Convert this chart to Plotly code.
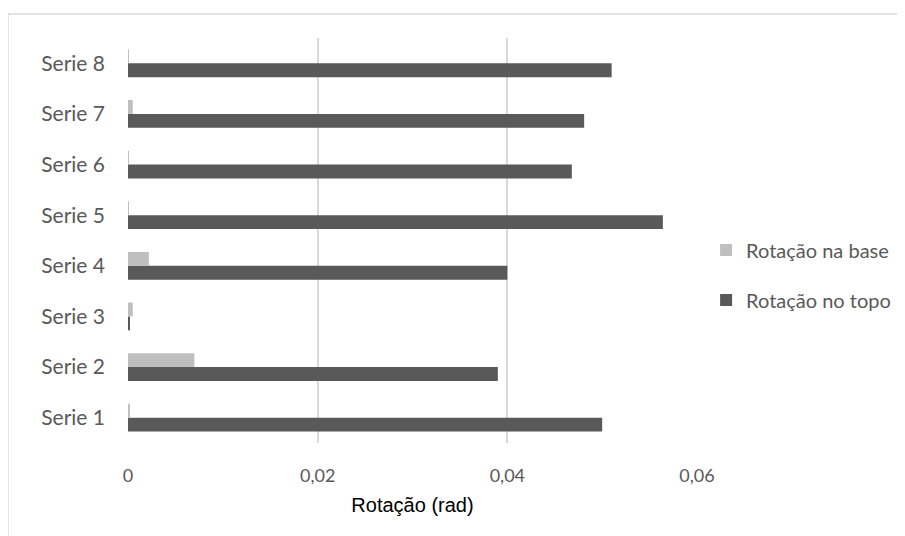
import plotly.graph_objects as go

categories = ["Serie 1", "Serie 2", "Serie 3", "Serie 4", "Serie 5", "Serie 6", "Serie 7", "Serie 8"]
rot_base = [0.00015, 0.0070, 0.0005, 0.0022, 0.0001, 0.0001, 0.0005, 0.0001]
rot_topo = [0.0500, 0.0390, 0.00015, 0.0400, 0.0564, 0.0468, 0.0481, 0.0510]
x_ticks = [0, 0.02, 0.04, 0.06]
x_ticktext = ["0", "0,02", "0,04", "0,06"]

FONT = "Lato"
fig = go.Figure()
fig.add_trace(go.Bar(y=categories, x=rot_topo, orientation="h", name="Rotação no topo",
                     marker=dict(color="#595959", line=dict(width=0)),
                     legendrank=2, legendgroup="b"))
fig.add_trace(go.Bar(y=categories, x=rot_base, orientation="h", name="Rotação na base",
                     marker=dict(color="#bfbfbf", line=dict(width=0)),
                     legendrank=1, legendgroup="a"))

fig.update_layout(
    width=897, height=528,
    margin=dict(l=120, r=208, t=30, b=93, autoexpand=False),
    paper_bgcolor="white", plot_bgcolor="white",
    barmode="group", bargap=0.45, bargroupgap=0,
    separators=",.",
    font=dict(family=FONT, size=16, color="#595959"),
    showlegend=True,
    legend=dict(x=1.016, xanchor="left", y=0.415, yanchor="middle",
                traceorder="grouped", tracegroupgap=21,
                font=dict(family=FONT, size=20, color="#595959"),
                itemwidth=30, bgcolor="rgba(0,0,0,0)"),
    xaxis=dict(range=[0, 0.06], tickvals=x_ticks, ticktext=x_ticktext,
               showgrid=True, gridcolor="#d9d9d9", gridwidth=1.5,
               zeroline=False, showline=False, ticks="",
               tickfont=dict(family=FONT, size=18, color="#595959"),
               ticklabelstandoff=20,
               title=dict(text="Rotação (rad)",
                          font=dict(family="Liberation Sans", size=20, color="#000000"),
                          standoff=12)),
    yaxis=dict(categoryorder="array", categoryarray=categories,
               showgrid=False, zeroline=False, showline=False, ticks="",
               ticklabelstandoff=22,
               tickfont=dict(family=FONT, size=21, color="#595959")),
    shapes=[dict(type="rect", xref="paper", yref="paper",
                 x0=-0.211, y0=1.059, x1=2, y1=-1,
                 line=dict(color="#d9d9d9", width=1.5), fillcolor="rgba(0,0,0,0)", layer="below")],
)

fig.write_html("out.html")
